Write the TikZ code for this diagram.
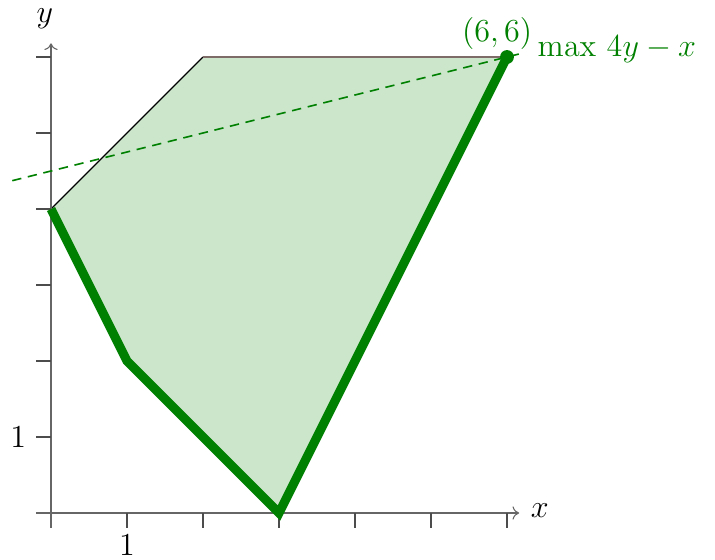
\documentclass[tikz,border=0pt]{standalone}
\usepackage{amsmath,amssymb}
\usepackage{tikz}
\usetikzlibrary{arrows.meta,positioning,calc}
\definecolor{lpgreen}{RGB}{0,128,0}
\definecolor{lpedge}{RGB}{125,108,104}

\begin{document}
\begin{tikzpicture}[x=1cm,y=1cm,font=\fontsize{11.5}{13}\selectfont,
  axisline/.style={black!60,thin},
  tickline/.style={black!70,thin},
  feasible/.style={fill=lpgreen,fill opacity=0.2,draw=none},
  bestpath/.style={lpgreen,line width=3.4pt},
  levelline/.style={lpgreen,semithick,dash pattern=on 3.5pt off 2.5pt}]
  \useasboundingbox (-0.671,-0.618) rectangle (8.737,6.75);
  % corners of the region
  \coordinate (p0) at (0,4);
  \coordinate (p1) at (1,2);
  \coordinate (p2) at (3,0);
  \coordinate (p3) at (6,6);
  \coordinate (p4) at (2,6);
  \fill[feasible] (p0) -- (p1) -- (p2) -- (p3) -- (p4) -- cycle;
  \draw[black,thin] (p0) -- (p4);
  \draw[lpedge,thin] (p4) -- (p3);
  % axes
  \coordinate (xs) at (-0.2,0);
  \coordinate (xe) at (6.16,0);
  \coordinate (ys) at (0,-0.2);
  \coordinate (ye) at (0,6.18);
  \draw[axisline,-{To[length=2.5pt,width=5pt]}] (xs) -- (xe);
  \draw[axisline,-{To[length=2.5pt,width=5pt]}] (ys) -- (ye);
  \node (xlab) at (6.43,0.03) {$x$};
  \node (ylab) at (-0.08,6.5) {$y$};
  \foreach \k in {1,...,6} {
    \draw[tickline] (\k,0) -- (\k,-0.2);
    \draw[tickline] (0,\k) -- (-0.2,\k);
  }
  \node (xone) at (1,-0.42) {$1$};
  \node (yone) at (-0.43,1) {$1$};
  % level line through the optimum
  \coordinate (la) at (-0.51,4.3725);
  \coordinate (lb) at (6.2,6.05);
  \draw[levelline] (la) -- (lb);
  \node[text=lpgreen,anchor=west] (obj) at (6.28,6.1) {$\max\,4y-x$};
  \draw[bestpath] (p0) -- (p1) -- (p2) -- (p3);
  \fill[lpgreen] (p3) circle (2.6pt);
  \node[text=lpgreen] (opt) at (5.87,6.31) {$(6,6)$};
\end{tikzpicture}
\end{document}
